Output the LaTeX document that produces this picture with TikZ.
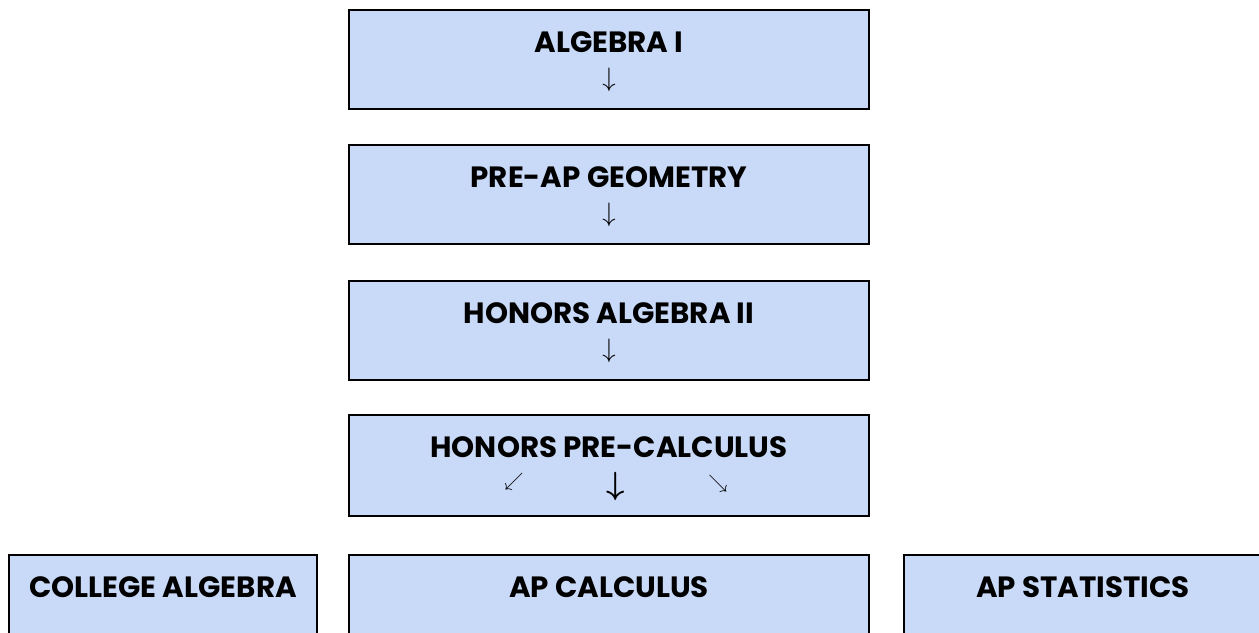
\documentclass[tikz,border=0pt]{standalone}
\usepackage{fontspec}
\setmainfont{Poppins}
\usetikzlibrary{calc}
\definecolor{boxblue}{RGB}{201,218,248}

\begin{document}
\begin{tikzpicture}[x=0.75pt,y=-0.75pt,line cap=rect,
  course/.style={rectangle,draw=black,line width=1.5pt,fill=boxblue,inner sep=0pt,anchor=north west},
  coursename/.style={font=\fontsize{22}{26}\selectfont\bfseries,inner sep=0pt,anchor=base},
  arrowsym/.style={inner sep=0pt,scale=2}]
\useasboundingbox (0,0) rectangle (1259,632);
\clip (0,0) rectangle (1259,632);
\node[course,minimum width=390pt,minimum height=74.25pt] (alg1) at (348,9) {};
\node[course,minimum width=390pt,minimum height=74.25pt] (geom) at (348,144) {};
\node[course,minimum width=390pt,minimum height=74.25pt] (alg2) at (348,280) {};
\node[course,minimum width=390pt,minimum height=75.75pt] (precalc) at (348,414) {};
\node[course,minimum width=231pt,minimum height=75pt] (colalg) at (8,554) {};
\node[course,minimum width=390pt,minimum height=75pt] (apcalc) at (348,554) {};
\node[course,minimum width=271.5pt,minimum height=75pt] (apstat) at (903,554) {};
\node[coursename] (alg1t) at ($(alg1.north)+(0,43.5)$) {ALGEBRA I};
\node[coursename] (geomt) at ($(geom.north)+(0,43.5)$) {PRE-AP GEOMETRY};
\node[coursename] (alg2t) at ($(alg2.north)+(0,43.5)$) {HONORS ALGEBRA II};
\node[coursename] (precalct) at ($(precalc.north)+(0,43.5)$) {HONORS PRE-CALCULUS};
\node[coursename] (colalgt) at ($(colalg.north)+(0,43.5)$) {COLLEGE ALGEBRA};
\node[coursename] (apcalct) at ($(apcalc.north)+(0,43.5)$) {AP CALCULUS};
\node[coursename] (apstatt) at ($(apstat.north)+(-2,43.5)$) {AP STATISTICS};
\node[arrowsym] (alg1a) at ($(alg1.north)+(0,71)$) {$\downarrow$};
\node[arrowsym] (geoma) at ($(geom.north)+(0,71)$) {$\downarrow$};
\node[arrowsym] (alg2a) at ($(alg2.north)+(0,71)$) {$\downarrow$};
% scale multiplies the style's scale=2
\node[arrowsym,scale=0.72] (precalcl) at ($(precalc.north)+(-95,68)$) {$\swarrow$};
\node[arrowsym,scale=1.2,font=\boldmath] (precalcm) at ($(precalc.north)+(7,72)$) {$\downarrow$};
\node[arrowsym,scale=0.72] (precalcr) at ($(precalc.north)+(109,70)$) {$\searrow$};
\end{tikzpicture}
\end{document}
